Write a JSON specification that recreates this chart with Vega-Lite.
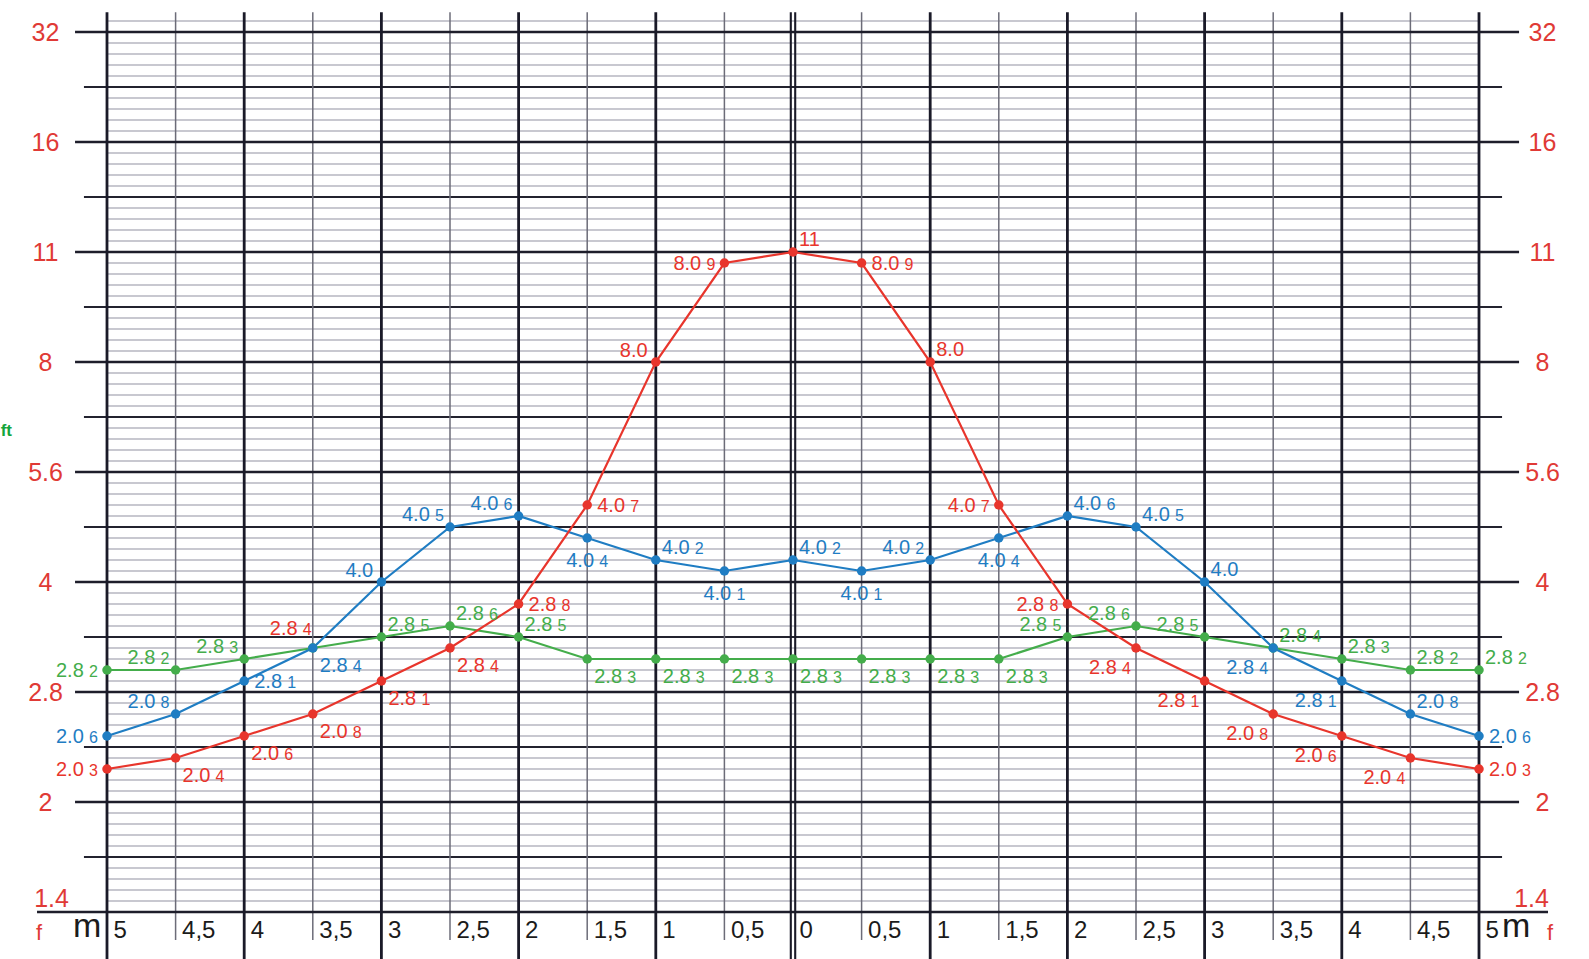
{
  "$schema": "https://vega.github.io/schema/vega-lite/v6.json",
  "width": 1372,
  "height": 880,
  "autosize": {"type": "none"},
  "padding": {"left": 107, "top": 32, "right": 110, "bottom": 47},
  "background": "white",
  "config": {"view": {"stroke": null}, "axis": {"labelFont": "Liberation Sans"}, "text": {"font": "Liberation Sans"}},
  "datasets": {
    "hthin": [
      {"s":0.1},{"s":0.2},{"s":0.3},{"s":0.4},{"s":0.6},{"s":0.7},{"s":0.8},{"s":0.9},
      {"s":1.1},{"s":1.2},{"s":1.3},{"s":1.4},{"s":1.6},{"s":1.7},{"s":1.8},{"s":1.9},
      {"s":2.1},{"s":2.2},{"s":2.3},{"s":2.4},{"s":2.6},{"s":2.7},{"s":2.8},{"s":2.9},
      {"s":3.1},{"s":3.2},{"s":3.3},{"s":3.4},{"s":3.6},{"s":3.7},{"s":3.8},{"s":3.9},
      {"s":4.1},{"s":4.2},{"s":4.3},{"s":4.4},{"s":4.6},{"s":4.7},{"s":4.8},{"s":4.9},
      {"s":5.1},{"s":5.2},{"s":5.3},{"s":5.4},{"s":5.6},{"s":5.7},{"s":5.8},{"s":5.9},
      {"s":6.1},{"s":6.2},{"s":6.3},{"s":6.4},{"s":6.6},{"s":6.7},{"s":6.8},{"s":6.9},
      {"s":7.1},{"s":7.2},{"s":7.3},{"s":7.4},{"s":7.6},{"s":7.7},{"s":7.8},{"s":7.9},
      {"s":8.1}
    ],
    "hhalf": [{"s":0.5},{"s":1.5},{"s":2.5},{"s":3.5},{"s":4.5},{"s":5.5},{"s":6.5},{"s":7.5}],
    "hmajor": [{"s":1},{"s":2},{"s":3},{"s":4},{"s":5},{"s":6},{"s":7},{"s":8}],
    "hbase": [{"s":0}],
    "vmajor": [{"m":-5},{"m":-4},{"m":-3},{"m":-2},{"m":-1},{"m":1},{"m":2},{"m":3},{"m":4},{"m":5}],
    "vhalf": [{"m":-4.5},{"m":-3.5},{"m":-2.5},{"m":-1.5},{"m":-0.5},{"m":0.5},{"m":1.5},{"m":2.5},{"m":3.5},{"m":4.5}],
    "vzero": [{"m":0}],
    "pts": [
      {"series":"green","m":-5,"s":2.2,"main":"2.8","sub":"2"},
      {"series":"green","m":-4.5,"s":2.2,"main":"2.8","sub":"2"},
      {"series":"green","m":-4,"s":2.3,"main":"2.8","sub":"3"},
      {"series":"green","m":-3.5,"s":2.4,"main":"2.8","sub":"4"},
      {"series":"green","m":-3,"s":2.5,"main":"2.8","sub":"5"},
      {"series":"green","m":-2.5,"s":2.6,"main":"2.8","sub":"6"},
      {"series":"green","m":-2,"s":2.5,"main":"2.8","sub":"5"},
      {"series":"green","m":-1.5,"s":2.3,"main":"2.8","sub":"3"},
      {"series":"green","m":-1,"s":2.3,"main":"2.8","sub":"3"},
      {"series":"green","m":-0.5,"s":2.3,"main":"2.8","sub":"3"},
      {"series":"green","m":0,"s":2.3,"main":"2.8","sub":"3"},
      {"series":"green","m":0.5,"s":2.3,"main":"2.8","sub":"3"},
      {"series":"green","m":1,"s":2.3,"main":"2.8","sub":"3"},
      {"series":"green","m":1.5,"s":2.3,"main":"2.8","sub":"3"},
      {"series":"green","m":2,"s":2.5,"main":"2.8","sub":"5"},
      {"series":"green","m":2.5,"s":2.6,"main":"2.8","sub":"6"},
      {"series":"green","m":3,"s":2.5,"main":"2.8","sub":"5"},
      {"series":"green","m":3.5,"s":2.4,"main":"2.8","sub":"4"},
      {"series":"green","m":4,"s":2.3,"main":"2.8","sub":"3"},
      {"series":"green","m":4.5,"s":2.2,"main":"2.8","sub":"2"},
      {"series":"green","m":5,"s":2.2,"main":"2.8","sub":"2"},
      {"series":"blue","m":-5,"s":1.6,"main":"2.0","sub":"6"},
      {"series":"blue","m":-4.5,"s":1.8,"main":"2.0","sub":"8"},
      {"series":"blue","m":-4,"s":2.1,"main":"2.8","sub":"1"},
      {"series":"blue","m":-3.5,"s":2.4,"main":"2.8","sub":"4"},
      {"series":"blue","m":-3,"s":3.0,"main":"4.0","sub":""},
      {"series":"blue","m":-2.5,"s":3.5,"main":"4.0","sub":"5"},
      {"series":"blue","m":-2,"s":3.6,"main":"4.0","sub":"6"},
      {"series":"blue","m":-1.5,"s":3.4,"main":"4.0","sub":"4"},
      {"series":"blue","m":-1,"s":3.2,"main":"4.0","sub":"2"},
      {"series":"blue","m":-0.5,"s":3.1,"main":"4.0","sub":"1"},
      {"series":"blue","m":0,"s":3.2,"main":"4.0","sub":"2"},
      {"series":"blue","m":0.5,"s":3.1,"main":"4.0","sub":"1"},
      {"series":"blue","m":1,"s":3.2,"main":"4.0","sub":"2"},
      {"series":"blue","m":1.5,"s":3.4,"main":"4.0","sub":"4"},
      {"series":"blue","m":2,"s":3.6,"main":"4.0","sub":"6"},
      {"series":"blue","m":2.5,"s":3.5,"main":"4.0","sub":"5"},
      {"series":"blue","m":3,"s":3.0,"main":"4.0","sub":""},
      {"series":"blue","m":3.5,"s":2.4,"main":"2.8","sub":"4"},
      {"series":"blue","m":4,"s":2.1,"main":"2.8","sub":"1"},
      {"series":"blue","m":4.5,"s":1.8,"main":"2.0","sub":"8"},
      {"series":"blue","m":5,"s":1.6,"main":"2.0","sub":"6"},
      {"series":"red","m":-5,"s":1.3,"main":"2.0","sub":"3"},
      {"series":"red","m":-4.5,"s":1.4,"main":"2.0","sub":"4"},
      {"series":"red","m":-4,"s":1.6,"main":"2.0","sub":"6"},
      {"series":"red","m":-3.5,"s":1.8,"main":"2.0","sub":"8"},
      {"series":"red","m":-3,"s":2.1,"main":"2.8","sub":"1"},
      {"series":"red","m":-2.5,"s":2.4,"main":"2.8","sub":"4"},
      {"series":"red","m":-2,"s":2.8,"main":"2.8","sub":"8"},
      {"series":"red","m":-1.5,"s":3.7,"main":"4.0","sub":"7"},
      {"series":"red","m":-1,"s":5.0,"main":"8.0","sub":""},
      {"series":"red","m":-0.5,"s":5.9,"main":"8.0","sub":"9"},
      {"series":"red","m":0,"s":6.0,"main":"11","sub":""},
      {"series":"red","m":0.5,"s":5.9,"main":"8.0","sub":"9"},
      {"series":"red","m":1,"s":5.0,"main":"8.0","sub":""},
      {"series":"red","m":1.5,"s":3.7,"main":"4.0","sub":"7"},
      {"series":"red","m":2,"s":2.8,"main":"2.8","sub":"8"},
      {"series":"red","m":2.5,"s":2.4,"main":"2.8","sub":"4"},
      {"series":"red","m":3,"s":2.1,"main":"2.8","sub":"1"},
      {"series":"red","m":3.5,"s":1.8,"main":"2.0","sub":"8"},
      {"series":"red","m":4,"s":1.6,"main":"2.0","sub":"6"},
      {"series":"red","m":4.5,"s":1.4,"main":"2.0","sub":"4"},
      {"series":"red","m":5,"s":1.3,"main":"2.0","sub":"3"}
    ]
  },
  "resolve": {"axis": {"x": "independent", "y": "independent"}},
  "layer": [
    {
      "data": {"name": "hthin"},
      "mark": {"type": "rule", "stroke": "#b6b6c0", "strokeWidth": 1.4},
      "encoding": {
        "y": {"field": "s", "type": "quantitative", "scale": {"domain": [0, 8], "nice": false, "zero": false},
          "axis": {"orient": "left", "values": [0,1,2,3,4,5,6,7,8], "labelExpr": "['1.4','2','2.8','4','5.6','8','11','16','32'][datum.value]",
            "ticks": false, "domain": false, "grid": false, "title": null, "labelFontSize": 25, "labelColor": "#e03a36",
            "labelAlign": "center", "labelBaseline": "middle", "labelFlush": false, "labelOverlap": false, "labelBound": false,
            "labelPadding": {"condition": {"test": "datum.value == 0", "value": 56}, "value": 62},
            "labelOffset": {"condition": {"test": "datum.value == 0", "value": -14}, "value": 0}}}
      }
    },
    {
      "data": {"name": "hhalf"},
      "mark": {"type": "rule", "stroke": "#23232f", "strokeWidth": 2.2},
      "encoding": {
        "y": {"field": "s", "type": "quantitative", "scale": {"domain": [0, 8], "nice": false, "zero": false},
          "axis": {"orient": "right", "values": [0,1,2,3,4,5,6,7,8], "labelExpr": "['1.4','2','2.8','4','5.6','8','11','16','32'][datum.value]",
            "ticks": false, "domain": false, "grid": false, "title": null, "labelFontSize": 25, "labelColor": "#e03a36",
            "labelAlign": "center", "labelBaseline": "middle", "labelFlush": false, "labelOverlap": false, "labelBound": false,
            "labelPadding": {"condition": {"test": "datum.value == 0", "value": 52}, "value": 63},
            "labelOffset": {"condition": {"test": "datum.value == 0", "value": -14}, "value": 0}}},
        "x": {"datum": -5.168, "type": "quantitative", "scale": {"domain": [-5, 5], "nice": false, "zero": false}, "axis": null},
        "x2": {"datum": 5.168}
      }
    },
    {
      "data": {"name": "vhalf"},
      "mark": {"type": "rule", "stroke": "#6c6c78", "strokeWidth": 1.5},
      "encoding": {
        "x": {"field": "m", "type": "quantitative", "scale": {"domain": [-5, 5], "nice": false, "zero": false},
          "axis": {"orient": "bottom", "values": [-5,-4.5,-4,-3.5,-3,-2.5,-2,-1.5,-1,-0.5,0,0.5,1,1.5,2,2.5,3,3.5,4,4.5,5],
            "labelExpr": "replace(toString(abs(datum.value)), '.', ',')", "ticks": false, "domain": false, "grid": false, "title": null,
            "labelFontSize": 24, "labelColor": "#1b1b1b", "labelAlign": "left", "labelBaseline": "alphabetic",
            "labelPadding": 25, "labelOffset": 6, "labelFlush": false, "labelOverlap": false, "labelBound": false}},
        "y": {"datum": 8.18, "type": "quantitative", "scale": {"domain": [0, 8], "nice": false, "zero": false}, "axis": null},
        "y2": {"datum": -0.255}
      }
    },
    {
      "data": {"name": "hmajor"},
      "mark": {"type": "rule", "stroke": "#1e1e2b", "strokeWidth": 2.6},
      "encoding": {
        "y": {"field": "s", "type": "quantitative", "scale": {"domain": [0, 8], "nice": false, "zero": false}, "axis": null},
        "x": {"datum": -5.233, "type": "quantitative", "scale": {"domain": [-5, 5], "nice": false, "zero": false}, "axis": null},
        "x2": {"datum": 5.292}
      }
    },
    {
      "data": {"name": "hbase"},
      "mark": {"type": "rule", "stroke": "#1e1e2b", "strokeWidth": 2.6},
      "encoding": {
        "y": {"field": "s", "type": "quantitative", "scale": {"domain": [0, 8], "nice": false, "zero": false}, "axis": null},
        "x": {"datum": -5.51, "type": "quantitative", "scale": {"domain": [-5, 5], "nice": false, "zero": false}, "axis": null},
        "x2": {"datum": 5.503}
      }
    },
    {
      "data": {"name": "vmajor"},
      "mark": {"type": "rule", "stroke": "#1a1a28", "strokeWidth": 2.8},
      "encoding": {
        "x": {"field": "m", "type": "quantitative", "scale": {"domain": [-5, 5], "nice": false, "zero": false}, "axis": null},
        "y": {"datum": 8.18, "type": "quantitative", "scale": {"domain": [0, 8], "nice": false, "zero": false}, "axis": null},
        "y2": {"datum": -0.45}
      }
    },
    {
      "data": {"name": "vzero"},
      "mark": {"type": "rule", "stroke": "#1a1a28", "strokeWidth": 2.1, "xOffset": -2.2},
      "encoding": {
        "x": {"field": "m", "type": "quantitative", "scale": {"domain": [-5, 5], "nice": false, "zero": false}, "axis": null},
        "y": {"datum": 8.18, "type": "quantitative", "scale": {"domain": [0, 8], "nice": false, "zero": false}, "axis": null},
        "y2": {"datum": -0.45}
      }
    },
    {
      "data": {"name": "vzero"},
      "mark": {"type": "rule", "stroke": "#1a1a28", "strokeWidth": 2.1, "xOffset": 2.2},
      "encoding": {
        "x": {"field": "m", "type": "quantitative", "scale": {"domain": [-5, 5], "nice": false, "zero": false}, "axis": null},
        "y": {"datum": 8.18, "type": "quantitative", "scale": {"domain": [0, 8], "nice": false, "zero": false}, "axis": null},
        "y2": {"datum": -0.45}
      }
    },
    {
      "data": {"name": "pts"},
      "mark": {"type": "line", "strokeWidth": 2.2},
      "encoding": {
        "x": {"field": "m", "type": "quantitative", "scale": {"domain": [-5, 5], "nice": false, "zero": false}, "axis": null},
        "y": {"field": "s", "type": "quantitative", "scale": {"domain": [0, 8], "nice": false, "zero": false}, "axis": null},
        "color": {"field": "series", "type": "nominal", "scale": {"domain": ["red", "blue", "green"], "range": ["#e8352c", "#1f7dc3", "#44ad4b"]}, "legend": null},
        "order": {"field": "m", "type": "quantitative"}
      }
    },
    {
      "data": {"name": "pts"},
      "mark": {"type": "circle", "size": 90, "opacity": 1},
      "encoding": {
        "x": {"field": "m", "type": "quantitative", "scale": {"domain": [-5, 5], "nice": false, "zero": false}, "axis": null},
        "y": {"field": "s", "type": "quantitative", "scale": {"domain": [0, 8], "nice": false, "zero": false}, "axis": null},
        "color": {"field": "series", "type": "nominal", "scale": {"domain": ["red", "blue", "green"], "range": ["#e8352c", "#1f7dc3", "#44ad4b"]}, "legend": null}
      }
    },
    {
      "data": {"name": "pts"},
      "transform": [{"filter": "indexof(['red|-2','red|-1.5','red|0.5','red|5','blue|-4','blue|5'], datum.series + '|' + datum.m) >= 0"}],
      "encoding": {
        "x": {"field": "m", "type": "quantitative", "scale": {"domain": [-5, 5], "nice": false, "zero": false}, "axis": null},
        "y": {"field": "s", "type": "quantitative", "scale": {"domain": [0, 8], "nice": false, "zero": false}, "axis": null},
        "color": {"field": "series", "type": "nominal", "scale": {"domain": ["red", "blue", "green"], "range": ["#e8352c", "#1f7dc3", "#44ad4b"]}, "legend": null}
      },
      "layer": [
        {"mark": {"type": "text", "align": "left", "baseline": "alphabetic", "fontSize": 20, "dx": 10, "dy": 7}, "encoding": {"text": {"field": "main"}}},
        {"mark": {"type": "text", "align": "left", "baseline": "alphabetic", "fontSize": 16, "dx": 43, "dy": 7}, "encoding": {"text": {"field": "sub"}}}
      ]
    },
    {
      "data": {"name": "pts"},
      "transform": [{"filter": "indexof(['red|-5','red|-0.5','red|1.5','red|2','blue|-5','green|-5'], datum.series + '|' + datum.m) >= 0"}],
      "encoding": {
        "x": {"field": "m", "type": "quantitative", "scale": {"domain": [-5, 5], "nice": false, "zero": false}, "axis": null},
        "y": {"field": "s", "type": "quantitative", "scale": {"domain": [0, 8], "nice": false, "zero": false}, "axis": null},
        "color": {"field": "series", "type": "nominal", "scale": {"domain": ["red", "blue", "green"], "range": ["#e8352c", "#1f7dc3", "#44ad4b"]}, "legend": null}
      },
      "layer": [
        {"mark": {"type": "text", "align": "left", "baseline": "alphabetic", "fontSize": 20, "dx": -51, "dy": 7}, "encoding": {"text": {"field": "main"}}},
        {"mark": {"type": "text", "align": "left", "baseline": "alphabetic", "fontSize": 16, "dx": -18, "dy": 7}, "encoding": {"text": {"field": "sub"}}}
      ]
    },
    {
      "data": {"name": "pts"},
      "transform": [{"filter": "indexof(['red|0','red|1','blue|-1','blue|0','blue|2','blue|2.5','blue|3','blue|4.5','green|-3','green|-2.5','green|-2','green|3.5','green|4','green|4.5','green|5'], datum.series + '|' + datum.m) >= 0"}],
      "encoding": {
        "x": {"field": "m", "type": "quantitative", "scale": {"domain": [-5, 5], "nice": false, "zero": false}, "axis": null},
        "y": {"field": "s", "type": "quantitative", "scale": {"domain": [0, 8], "nice": false, "zero": false}, "axis": null},
        "color": {"field": "series", "type": "nominal", "scale": {"domain": ["red", "blue", "green"], "range": ["#e8352c", "#1f7dc3", "#44ad4b"]}, "legend": null}
      },
      "layer": [
        {"mark": {"type": "text", "align": "left", "baseline": "alphabetic", "fontSize": 20, "dx": 6, "dy": -6}, "encoding": {"text": {"field": "main"}}},
        {"mark": {"type": "text", "align": "left", "baseline": "alphabetic", "fontSize": 16, "dx": 39, "dy": -6}, "encoding": {"text": {"field": "sub"}}}
      ]
    },
    {
      "data": {"name": "pts"},
      "transform": [{"filter": "indexof(['blue|-4.5','blue|-2.5','blue|-2','blue|1','green|-4.5','green|-4','green|2','green|2.5','green|3'], datum.series + '|' + datum.m) >= 0"}],
      "encoding": {
        "x": {"field": "m", "type": "quantitative", "scale": {"domain": [-5, 5], "nice": false, "zero": false}, "axis": null},
        "y": {"field": "s", "type": "quantitative", "scale": {"domain": [0, 8], "nice": false, "zero": false}, "axis": null},
        "color": {"field": "series", "type": "nominal", "scale": {"domain": ["red", "blue", "green"], "range": ["#e8352c", "#1f7dc3", "#44ad4b"]}, "legend": null}
      },
      "layer": [
        {"mark": {"type": "text", "align": "left", "baseline": "alphabetic", "fontSize": 20, "dx": -48, "dy": -6}, "encoding": {"text": {"field": "main"}}},
        {"mark": {"type": "text", "align": "left", "baseline": "alphabetic", "fontSize": 16, "dx": -15, "dy": -6}, "encoding": {"text": {"field": "sub"}}}
      ]
    },
    {
      "data": {"name": "pts"},
      "transform": [{"filter": "indexof(['red|-1','blue|-3'], datum.series + '|' + datum.m) >= 0"}],
      "mark": {"type": "text", "align": "left", "baseline": "alphabetic", "fontSize": 20, "dx": -36, "dy": -5},
      "encoding": {
        "x": {"field": "m", "type": "quantitative", "scale": {"domain": [-5, 5], "nice": false, "zero": false}, "axis": null},
        "y": {"field": "s", "type": "quantitative", "scale": {"domain": [0, 8], "nice": false, "zero": false}, "axis": null},
        "color": {"field": "series", "type": "nominal", "scale": {"domain": ["red", "blue", "green"], "range": ["#e8352c", "#1f7dc3", "#44ad4b"]}, "legend": null},
        "text": {"field": "main"}
      }
    },
    {
      "data": {"name": "pts"},
      "transform": [{"filter": "indexof(['red|-4.5','red|-4','red|-3.5','red|-3','red|-2.5','blue|-3.5','green|-1.5','green|-1','green|-0.5','green|0','green|0.5','green|1','green|1.5'], datum.series + '|' + datum.m) >= 0"}],
      "encoding": {
        "x": {"field": "m", "type": "quantitative", "scale": {"domain": [-5, 5], "nice": false, "zero": false}, "axis": null},
        "y": {"field": "s", "type": "quantitative", "scale": {"domain": [0, 8], "nice": false, "zero": false}, "axis": null},
        "color": {"field": "series", "type": "nominal", "scale": {"domain": ["red", "blue", "green"], "range": ["#e8352c", "#1f7dc3", "#44ad4b"]}, "legend": null}
      },
      "layer": [
        {"mark": {"type": "text", "align": "left", "baseline": "alphabetic", "fontSize": 20, "dx": 7, "dy": 24}, "encoding": {"text": {"field": "main"}}},
        {"mark": {"type": "text", "align": "left", "baseline": "alphabetic", "fontSize": 16, "dx": 40, "dy": 24}, "encoding": {"text": {"field": "sub"}}}
      ]
    },
    {
      "data": {"name": "pts"},
      "transform": [{"filter": "indexof(['red|2.5','red|3','red|3.5','red|4','red|4.5','blue|3.5','blue|4'], datum.series + '|' + datum.m) >= 0"}],
      "encoding": {
        "x": {"field": "m", "type": "quantitative", "scale": {"domain": [-5, 5], "nice": false, "zero": false}, "axis": null},
        "y": {"field": "s", "type": "quantitative", "scale": {"domain": [0, 8], "nice": false, "zero": false}, "axis": null},
        "color": {"field": "series", "type": "nominal", "scale": {"domain": ["red", "blue", "green"], "range": ["#e8352c", "#1f7dc3", "#44ad4b"]}, "legend": null}
      },
      "layer": [
        {"mark": {"type": "text", "align": "left", "baseline": "alphabetic", "fontSize": 20, "dx": -47, "dy": 26}, "encoding": {"text": {"field": "main"}}},
        {"mark": {"type": "text", "align": "left", "baseline": "alphabetic", "fontSize": 16, "dx": -14, "dy": 26}, "encoding": {"text": {"field": "sub"}}}
      ]
    },
    {
      "data": {"name": "pts"},
      "transform": [{"filter": "indexof(['blue|-1.5','blue|-0.5','blue|0.5','blue|1.5'], datum.series + '|' + datum.m) >= 0"}],
      "encoding": {
        "x": {"field": "m", "type": "quantitative", "scale": {"domain": [-5, 5], "nice": false, "zero": false}, "axis": null},
        "y": {"field": "s", "type": "quantitative", "scale": {"domain": [0, 8], "nice": false, "zero": false}, "axis": null},
        "color": {"field": "series", "type": "nominal", "scale": {"domain": ["red", "blue", "green"], "range": ["#e8352c", "#1f7dc3", "#44ad4b"]}, "legend": null}
      },
      "layer": [
        {"mark": {"type": "text", "align": "left", "baseline": "alphabetic", "fontSize": 20, "dx": -21, "dy": 29}, "encoding": {"text": {"field": "main"}}},
        {"mark": {"type": "text", "align": "left", "baseline": "alphabetic", "fontSize": 16, "dx": 12, "dy": 29}, "encoding": {"text": {"field": "sub"}}}
      ]
    },
    {
      "data": {"name": "pts"},
      "transform": [{"filter": "datum.series == 'green' && datum.m == -3.5"}],
      "encoding": {
        "x": {"field": "m", "type": "quantitative", "scale": {"domain": [-5, 5], "nice": false, "zero": false}, "axis": null},
        "y": {"field": "s", "type": "quantitative", "scale": {"domain": [0, 8], "nice": false, "zero": false}, "axis": null}
      },
      "layer": [
        {"mark": {"type": "text", "align": "left", "baseline": "alphabetic", "fontSize": 20, "dx": -43, "dy": -13, "color": "#e8352c"}, "encoding": {"text": {"field": "main"}}},
        {"mark": {"type": "text", "align": "left", "baseline": "alphabetic", "fontSize": 16, "dx": -10, "dy": -13, "color": "#e8352c"}, "encoding": {"text": {"field": "sub"}}}
      ]
    },
    {
      "data": {"values": [{}]},
      "layer": [
        {"mark": {"type": "text", "text": "m", "align": "left", "baseline": "alphabetic", "fontSize": 34, "color": "#1b1b1b"},
          "encoding": {"x": {"datum": -5.248, "type": "quantitative", "scale": {"domain": [-5, 5], "nice": false, "zero": false}, "axis": null},
                       "y": {"datum": -0.227, "type": "quantitative", "scale": {"domain": [0, 8], "nice": false, "zero": false}, "axis": null}}},
        {"mark": {"type": "text", "text": "m", "align": "left", "baseline": "alphabetic", "fontSize": 34, "color": "#1b1b1b"},
          "encoding": {"x": {"datum": 5.168, "type": "quantitative", "scale": {"domain": [-5, 5], "nice": false, "zero": false}, "axis": null},
                       "y": {"datum": -0.227, "type": "quantitative", "scale": {"domain": [0, 8], "nice": false, "zero": false}, "axis": null}}},
        {"mark": {"type": "text", "text": "f", "align": "left", "baseline": "alphabetic", "fontSize": 22, "color": "#e03a36"},
          "encoding": {"x": {"datum": -5.517, "type": "quantitative", "scale": {"domain": [-5, 5], "nice": false, "zero": false}, "axis": null},
                       "y": {"datum": -0.25, "type": "quantitative", "scale": {"domain": [0, 8], "nice": false, "zero": false}, "axis": null}}},
        {"mark": {"type": "text", "text": "f", "align": "left", "baseline": "alphabetic", "fontSize": 22, "color": "#e03a36"},
          "encoding": {"x": {"datum": 5.496, "type": "quantitative", "scale": {"domain": [-5, 5], "nice": false, "zero": false}, "axis": null},
                       "y": {"datum": -0.25, "type": "quantitative", "scale": {"domain": [0, 8], "nice": false, "zero": false}, "axis": null}}},
        {"mark": {"type": "text", "text": "ft", "align": "left", "baseline": "middle", "fontSize": 17, "fontWeight": "bold", "color": "#14a53c"},
          "encoding": {"x": {"datum": -5.775, "type": "quantitative", "scale": {"domain": [-5, 5], "nice": false, "zero": false}, "axis": null},
                       "y": {"datum": 4.373, "type": "quantitative", "scale": {"domain": [0, 8], "nice": false, "zero": false}, "axis": null}}}
      ]
    }
  ]
}
